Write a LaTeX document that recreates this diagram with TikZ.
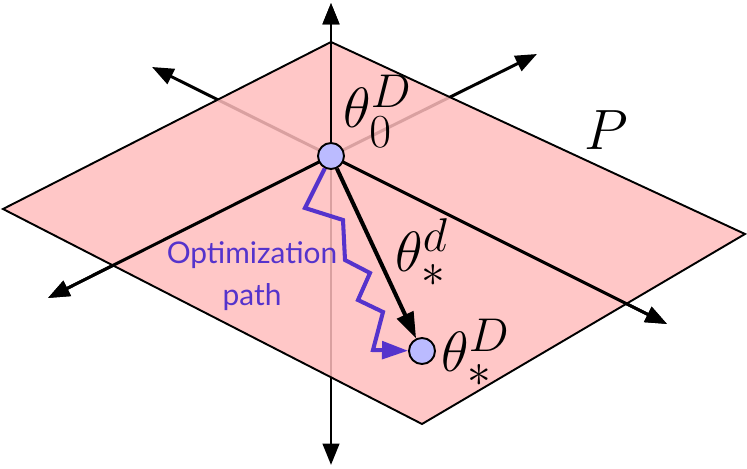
\documentclass[tikz,border=0pt]{standalone}
\usepackage{fontspec}
\usepackage{amsmath}
\usetikzlibrary{arrows.meta}
\newfontfamily\pathfont{Lato}
\newcommand{\bigmath}[1]{\scalebox{1.3}{\Huge$#1$}}
\definecolor{Pink}{HTML}{FFBDBD}
\definecolor{Dot}{HTML}{BBBBFF}
\definecolor{Purple}{HTML}{5533CC}

\begin{document}
\begin{tikzpicture}[x=0.02cm,y=-0.02cm,
  axis/.style={line width=1.7pt,-{Triangle[length=4.3mm,width=3.3mm]}},
  edge/.style={line width=1.1pt,line join=miter},
  dot/.style={circle,draw,line width=1.1pt,fill=Dot,minimum size=5.2mm,inner sep=0pt},
  lbl/.style={anchor=base west,inner sep=0pt},
  move/.style={line width=2.3pt,line join=miter,-{Triangle[length=5.2mm,width=3.5mm]}}]
  \useasboundingbox (0,0) rectangle (747,469);
  \coordinate (O) at (331,156);
  \coordinate (up) at (331,3);
  \coordinate (down) at (331,465);
  \coordinate (ul) at (152,67);
  \coordinate (lr) at (667,324);
  \coordinate (ur) at (537,54);
  \coordinate (ll) at (48,298);
  \coordinate (pt) at (331,42);
  \coordinate (pr) at (745,234);
  \coordinate (pb) at (422,424);
  \coordinate (pl) at (3,209);
  \foreach \e in {up,down,ul,lr,ur,ll} \draw[axis] (O) -- (\e);
  \fill[Pink,opacity=0.85] (pt) -- (pr) -- (pb) -- (pl) -- cycle;
  \draw[edge] (pt) -- (pr) -- (pb) -- (pl) -- cycle;
  \foreach \e in {up,lr,ll} \draw[axis] (O) -- (\e);
  \node[dot] (th0) at (O) {};
  \node[dot] (ths) at (422,351) {};
  \draw[move] (th0) -- (ths);
  \draw[move,Purple] (th0) -- (305,208) -- (343,220) -- (345,260) -- (370,273)
    -- (358,300) -- (383,312) -- (373,350) -- (ths);
  \node[lbl] (l0) at (343,128) {\bigmath{\theta_0^D}};
  \node[lbl] (ld) at (395,272) {\bigmath{\theta_*^d}};
  \node[lbl] (lD) at (441,372) {\bigmath{\theta_*^D}};
  \node[lbl] (lP) at (584,150) {\bigmath{P}};
  \node[Purple,font=\pathfont\fontsize{17}{24}\selectfont,align=center] (opt) at (252,276) {Optimization\\path};
\end{tikzpicture}
\end{document}
